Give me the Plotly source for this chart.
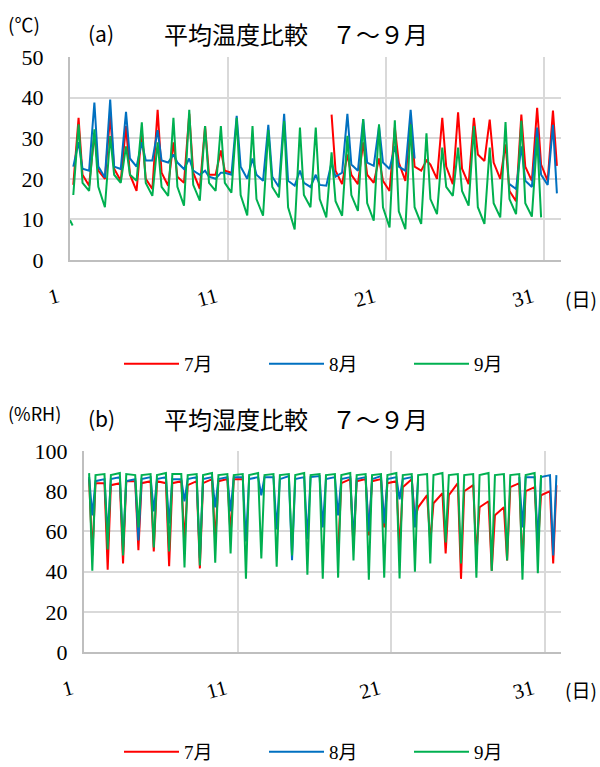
import plotly.graph_objects as go

# ---------------- data ----------------
MONTHS = ["7月", "8月", "9月"]
COLORS = ["#FF0000", "#0070C0", "#00B050"]
X_TICKS = [1, 11, 21, 31]

# temperature: value at early morning (05h), afternoon peak (13h), evening (19h)
TEMP_HOURS = [5, 13, 19]
t7_lo = [18.5, 18.3, 20.0, 19.5, 17.0, 17.5, 18.3, 19.0, 17.5, 21.0, 21.5,
         None, None, None, None, None, None,
         18.7, 18.7, 19.0, 17.0, 19.5, 22.0, 20.0, 18.7, 18.7, 24.4, 20.0, 14.5, 19.5, 19.5]
t7_hi = [35.0, 31.0, 35.5, 33.0, 31.8, 37.0, 29.0, 36.0, 33.0, 27.0,
         None, None, None, None, None, None,
         35.8, 26.0, 29.0, 25.0, 32.6, 34.7, 24.5, 35.0, 36.4, 35.0, 34.6, 28.5, 35.8, 37.5, 36.8]
t7_ev = [21.0, 22.0, 22.5, 21.0, 20.0, 21.5, 20.5, 21.5, 21.0, 22.0,
         None, None, None, None, None, None,
         22.0, 21.0, 21.0, 19.5, 24.0, 23.0, 23.5, 23.0, 22.5, 26.0, 24.0, 17.0, 23.0, 23.5, 23.2]

t8_lo = [23.0, 22.0, 20.3, 22.4, 23.0, 24.5, 24.0, 22.4, 21.0, 20.0, 21.0, 20.0, 19.5, 18.0,
         18.3, 18.0, 18.3, 21.5, 22.0, 23.2, 22.4, 22.0,
         None, None, None, None, None, None, 17.5, 18.0, 18.5]
t8_hi = [29.0, 38.8, 39.5, 36.5, 29.0, 32.0, 26.0, 25.0, 22.0, 21.5, 35.5, 25.0, 33.3, 36.0,
         22.0, 21.0, 24.0, 36.0, 34.7, 33.0, 28.0, 37.0,
         None, None, None, None, None, None, 28.0, 32.6, 33.3]
t8_ev = [22.5, 23.0, 23.0, 25.0, 24.5, 24.5, 24.0, 22.0, 20.5, 21.5, 23.0, 21.0, 20.5, 19.5,
         19.0, 18.5, 20.5, 23.5, 24.0, 24.0, 23.0, 25.0,
         None, None, None, None, None, 18.7, 19.5, 21.0, 16.4]

t9_head_hours = [0, 4]
t9_head = [9.8, 8.5]
t9_lo = [16.0, 17.0, 13.0, 19.0, 19.5, 15.8, 15.8, 13.4, 14.6, 17.0, 16.6, 11.0, 10.9, 15.4, 7.5,
         13.0, 10.5, 10.9, 12.1, 9.7, 8.0, 7.6, 8.9, 11.3, 15.8, 13.4, 8.9, 10.5, 11.3, 10.7]
t9_hi = [33.4, 32.2, 30.5, 28.0, 33.9, 29.0, 35.0, 37.0, 33.0, 33.0, 35.0, 33.0, 32.0, 34.2, 32.6,
         32.6, 26.5, 30.6, 34.7, 33.4, 34.4, 33.4, 31.2, 27.7, 27.7, 33.0, 27.7, 34.0, 34.3, 30.2]
t9_ev = [19.0, 18.0, 21.0, 21.0, 19.0, 18.0, 18.0, 18.5, 19.0, 19.0, 16.0, 15.0, 18.0, 13.0, 16.0,
         15.0, 14.5, 16.0, 14.0, 13.0, 12.0, 13.0, 15.0, 18.0, 17.0, 13.0, 14.0, 15.0, 14.0, 10.5]

# humidity: value in the morning (08h), afternoon minimum (13h), evening (18h)
HUM_HOURS = [8, 13, 18]
h7_am = [86, 84, 84, 85, 85, 84, 85, 85, 86, 86, 86,
         None, None, None, None, None, None,
         86, 86, 86, 85, 86, 78, 79, 84, 83, 75, 72, 84, 82, 80]
h7_min = [48, 41, 44, 50.6, 50, 42.7, 55, 41.6, 55, 58,
          None, None, None, None, None, None,
          49.6, 52, 58, 62, 50.4, 66, 54.6, 49, 36.4, 48, 40.5, 45.5, 43, 52, 44]
h7_pm = [84, 83, 85, 84, 85, 84, 83, 84, 85, 86,
         None, None, None, None, None, None,
         84, 85, 85, 84, 82, 72, 74, 78, 80, 72, 68, 82, 80, 78, 83]

h8_am = [87, 86, 87, 86, 87, 87, 86, 87, 87, 87, 87, 87, 87, 87.5, 87, 87.5, 87, 87, 87, 87.5, 87, 87,
         None, None, None, None, None, None, 87, 87, 88]
h8_min = [68, 58, 52, 55.5, 70, 64, 75, 46.8, 72, 70, 55, 78, 61, 45.7, 56, 62, 68, 55, 60, 64, 76, 62,
          None, None, None, None, None, None, 62, 55, 48]
h8_pm = [85, 86, 85, 86, 86, 86, 86, 86, 86, 87, 86, 87, 86, 86, 87, 86, 86, 86, 86, 86, 86, 86,
         None, None, None, None, None, None, 87, 87, 88]

h9_am = [89, 88.5, 89, 88, 88.5, 89, 88.5, 88.5, 89, 88.5, 88.5, 89, 88.5, 88.5, 89,
         88.5, 88.5, 89, 88.5, 88.5, 89, 88.5, 88.5, 89, 88.5, 88.5, 89, 88.5, 88.5, 89]
h9_min = [40.5, 51, 48, 62, 52, 50, 42, 43, 44.4, 49, 36.5, 46.5, 42.4, 48, 38.5,
          36.5, 37, 45.5, 36, 37, 36.6, 40, 44, 54.5, 44, 37, 40.3, 45.5, 36, 39.2]
h9_pm = [88, 88, 88.5, 88, 88, 88.5, 88, 88, 88, 88, 88, 88, 88, 88, 88,
         88, 88, 88, 88, 88, 88, 88, 88, 88, 88, 88, 88, 88, 88, 88]


def build(series, hours):
    xs, ys = [], []
    for d in range(len(series[0])):
        for h, arr in zip(hours, series):
            xs.append(d + 1 + h / 24)
            ys.append(arr[d])
    return xs, ys


SERIF = "'Liberation Serif', 'DejaVu Serif', serif"
LEG = "'Liberation Serif', 'Noto Sans CJK JP', serif"
SANS = "'Noto Sans CJK JP', sans-serif"
W, H = 600, 767


def px(x):
    return x / W


def py(y):
    return 1 - y / H


fig = go.Figure()

temp_sets = [(t7_lo, t7_hi, t7_ev), (t8_lo, t8_hi, t8_ev), (t9_lo, t9_hi, t9_ev)]
for i, s in enumerate(temp_sets):
    xs, ys = build(s, TEMP_HOURS)
    if i == 2:
        hx = [1 + h / 24 for h in t9_head_hours]
        xs = hx + [None] + xs
        ys = t9_head + [None] + ys
    fig.add_trace(go.Scatter(x=xs, y=ys, mode="lines", name=MONTHS[i],
                             line=dict(color=COLORS[i], width=2),
                             xaxis="x", yaxis="y", legend="legend"))

hum_sets = [(h7_am, h7_min, h7_pm), (h8_am, h8_min, h8_pm), (h9_am, h9_min, h9_pm)]
for i, s in enumerate(hum_sets):
    xs, ys = build(s, HUM_HOURS)
    fig.add_trace(go.Scatter(x=xs, y=ys, mode="lines", name=MONTHS[i],
                             line=dict(color=COLORS[i], width=2),
                             xaxis="x2", yaxis="y2", legend="legend2"))

GRID = "#d9d9d9"
AXL = "#bfbfbf"
xcommon = dict(range=[1, 32.05], tickvals=X_TICKS, ticktext=[str(v) for v in X_TICKS],
               showgrid=True, gridcolor=GRID, gridwidth=1.5, zeroline=False,
               showline=True, linecolor=AXL, linewidth=2, ticks="",
               tickangle=-15, tickfont=dict(family=SERIF, size=21, color="#000"),
               ticklabelstandoff=15, ticklabelshift=-12)
ycommon = dict(showgrid=True, gridcolor=GRID, gridwidth=1.5, zeroline=False,
               showline=True, linecolor=AXL, linewidth=2, ticks="",
               tickfont=dict(family=SERIF, size=22, color="#000"))

legcommon = dict(orientation="h", xanchor="left", yanchor="middle",
                 font=dict(family=LEG, size=19, color="#000"), itemwidth=55,
                 entrywidth=75, bgcolor="rgba(0,0,0,0)")

fig.update_layout(
    width=W, height=H, margin=dict(l=0, r=0, t=0, b=0, autoexpand=False),
    plot_bgcolor="white", paper_bgcolor="white",
    xaxis=dict(domain=[px(70), px(561)], anchor="y", **xcommon),
    yaxis=dict(domain=[py(260), py(57)], anchor="x", range=[0, 50], dtick=10,
               ticklabelstandoff=20, **ycommon),
    xaxis2=dict(domain=[px(84), px(561)], anchor="y2", **xcommon),
    yaxis2=dict(domain=[py(652), py(451)], anchor="x2", range=[0, 100], dtick=20,
                ticklabelstandoff=10, **ycommon),
    legend=dict(x=px(119), y=py(364), **legcommon),
    legend2=dict(x=px(119), y=py(752), **legcommon),
)

anns = [
    dict(text="(℃)", x=px(6), y=py(24), font=dict(family=SANS, size=19)),
    dict(text="(a)", x=px(86), y=py(33), font=dict(family=SANS, size=21)),
    dict(text="平均温度比較　７～９月", x=px(162), y=py(33), font=dict(family=SANS, size=24)),
    dict(text="(日)", x=px(563), y=py(298), font=dict(family=SANS, size=19)),
    dict(text="(%RH)", x=px(6), y=py(413), font=dict(family=SANS, size=18)),
    dict(text="(b)", x=px(86), y=py(418), font=dict(family=SANS, size=21)),
    dict(text="平均湿度比較　７～９月", x=px(162), y=py(418), font=dict(family=SANS, size=24)),
    dict(text="(日)", x=px(563), y=py(689), font=dict(family=SANS, size=19)),
]
for a in anns:
    a["font"]["color"] = "#000"
    fig.add_annotation(xref="paper", yref="paper", xanchor="left", yanchor="middle",
                       showarrow=False, **a)

fig.write_html("out.html", config={"displayModeBar": False},
               post_script="document.body.style.margin='0';")
